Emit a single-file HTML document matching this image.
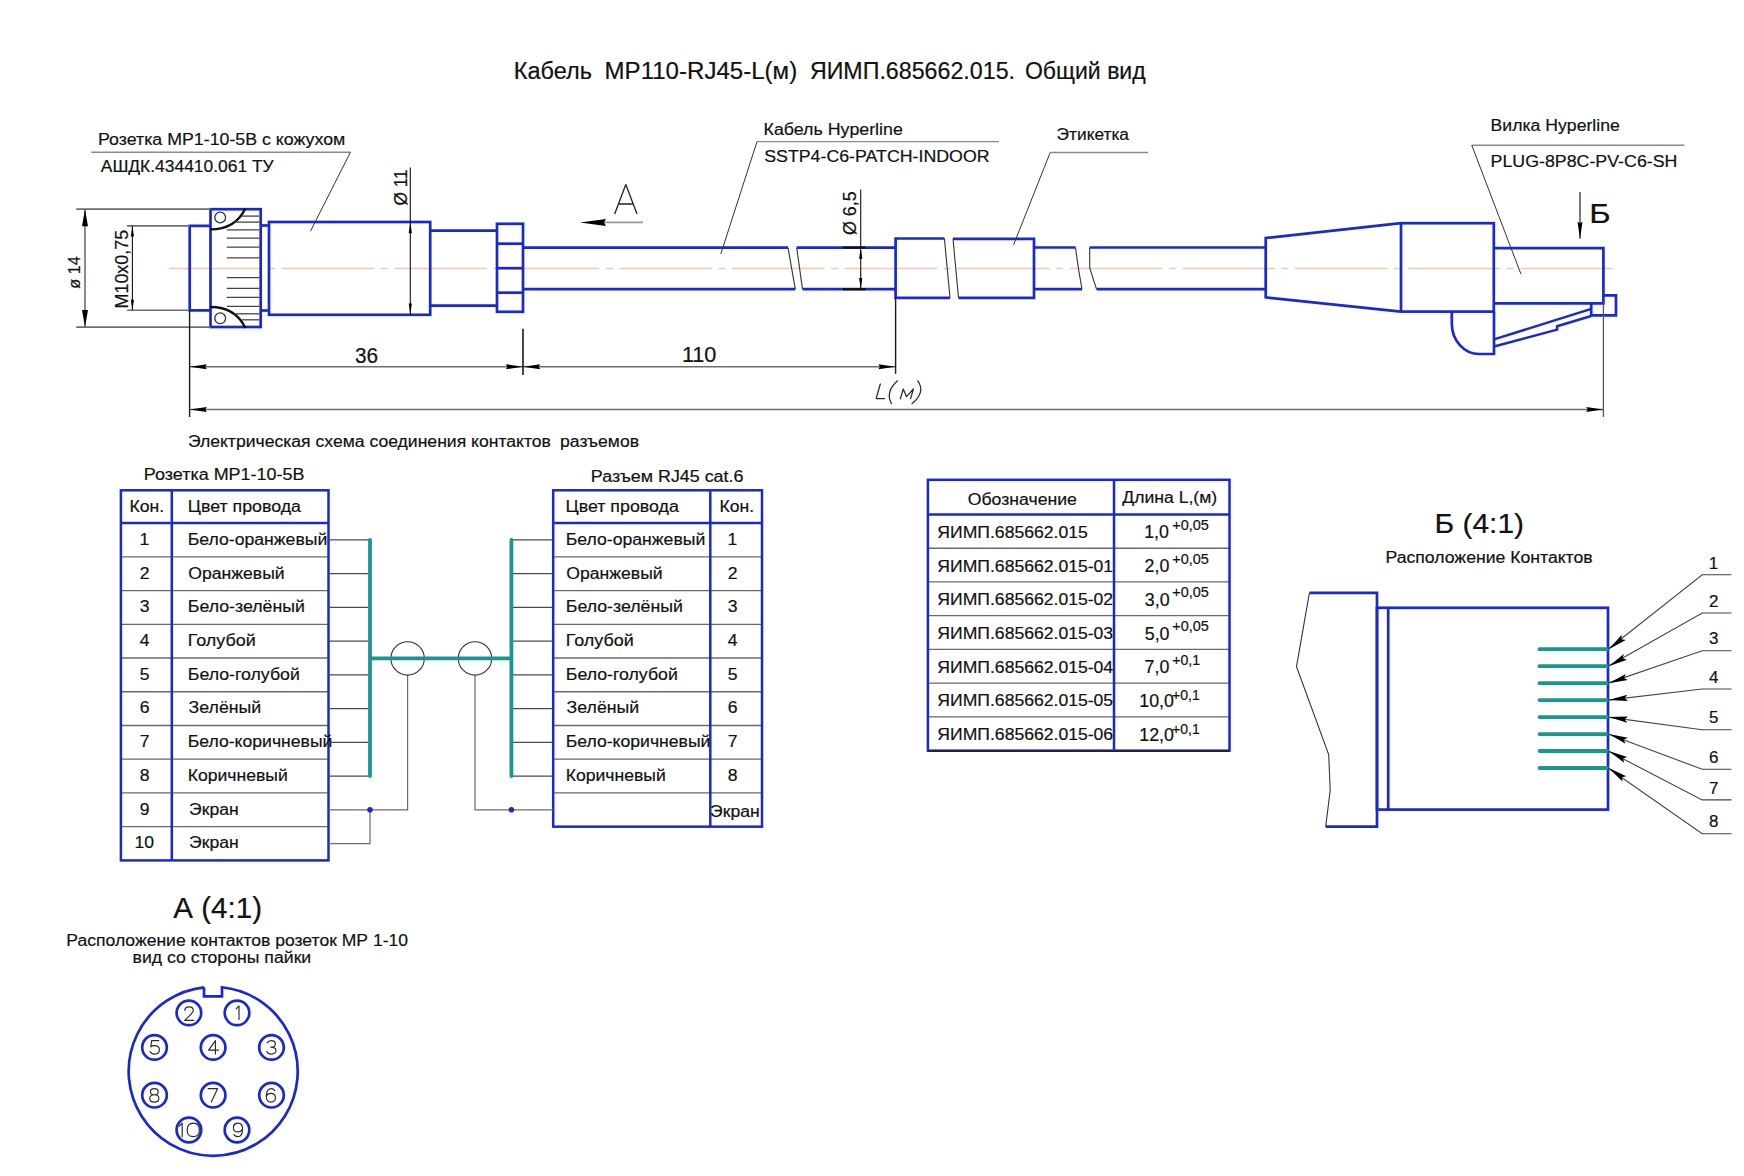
<!DOCTYPE html>
<html><head><meta charset="utf-8"><style>
html,body{margin:0;padding:0;background:#fff;}
svg{display:block;}
text{font-family:"Liberation Sans", sans-serif;white-space:pre;}
</style></head><body>
<svg width="1744" height="1176" viewBox="0 0 1744 1176">
<rect x="0" y="0" width="1744" height="1176" fill="#fff"/>
<text x="513.8" y="79.3" font-size="23.5" fill="#111" stroke="#111" stroke-width="0.2" textLength="78.15" lengthAdjust="spacingAndGlyphs">Кабель</text>
<text x="604.54" y="79.3" font-size="23.5" fill="#111" stroke="#111" stroke-width="0.2" textLength="192.63" lengthAdjust="spacingAndGlyphs">МР110-RJ45-L(м)</text>
<text x="809.91" y="79.3" font-size="23.5" fill="#111" stroke="#111" stroke-width="0.2" textLength="205.11" lengthAdjust="spacingAndGlyphs">ЯИМП.685662.015.</text>
<text x="1024.91" y="79.3" font-size="23.5" fill="#111" stroke="#111" stroke-width="0.2" textLength="120.79" lengthAdjust="spacingAndGlyphs">Общий вид</text>
<line x1="169" y1="268.5" x2="1613.5" y2="268.5" stroke="#efc9ab" stroke-width="1.3" stroke-dasharray="92.5 6.5 7 6.6"/>
<polyline points="210.5,225.8 189.7,225.8 189.7,310.3 210.5,310.3" stroke="#1a28d0" stroke-width="2.7" fill="none" stroke-linejoin="miter"/>
<rect x="210.5" y="209.2" width="50.2" height="117.8" stroke="#1a28d0" stroke-width="2.7" fill="none"/>
<line x1="260.7" y1="225.5" x2="269" y2="225.5" stroke="#1a28d0" stroke-width="2.7"/>
<line x1="260.7" y1="310.5" x2="269" y2="310.5" stroke="#1a28d0" stroke-width="2.7"/>
<rect x="269" y="222" width="161.2" height="92.8" stroke="#1a28d0" stroke-width="2.7" fill="none"/>
<line x1="430.2" y1="230.6" x2="497" y2="230.6" stroke="#1a28d0" stroke-width="2.7"/>
<line x1="430.2" y1="305.7" x2="497" y2="305.7" stroke="#1a28d0" stroke-width="2.7"/>
<rect x="497" y="223.8" width="26" height="88" stroke="#1a28d0" stroke-width="2.7" fill="none"/>
<line x1="497" y1="243.7" x2="523" y2="243.7" stroke="#1a28d0" stroke-width="2.7"/>
<line x1="497" y1="268.2" x2="523" y2="268.2" stroke="#1a28d0" stroke-width="2.7"/>
<line x1="497" y1="292.7" x2="523" y2="292.7" stroke="#1a28d0" stroke-width="2.7"/>
<circle cx="220.2" cy="217.5" r="5.4" stroke="#333" stroke-width="1.3" fill="none"/>
<circle cx="220.2" cy="318.3" r="5.4" stroke="#333" stroke-width="1.3" fill="none"/>
<path d="M210.3,229.4 C224,229.4 238,224 245.3,208.5" stroke="#111" stroke-width="2.4" fill="none"/>
<path d="M210.3,307 C224,307 238,312.4 245.3,327.9" stroke="#111" stroke-width="2.4" fill="none"/>
<line x1="242" y1="216.1" x2="259.5" y2="216.1" stroke="#444" stroke-width="1.3"/>
<line x1="234.4" y1="222.1" x2="259.5" y2="222.1" stroke="#444" stroke-width="1.3"/>
<line x1="226.8" y1="229.9" x2="259.5" y2="229.9" stroke="#444" stroke-width="1.3"/>
<line x1="226.8" y1="238.2" x2="259.5" y2="238.2" stroke="#444" stroke-width="1.3"/>
<line x1="226.8" y1="247.1" x2="259.5" y2="247.1" stroke="#444" stroke-width="1.3"/>
<line x1="226.8" y1="257.8" x2="259.5" y2="257.8" stroke="#444" stroke-width="1.3"/>
<line x1="226.8" y1="277.7" x2="259.5" y2="277.7" stroke="#444" stroke-width="1.3"/>
<line x1="226.8" y1="288.4" x2="259.5" y2="288.4" stroke="#444" stroke-width="1.3"/>
<line x1="226.8" y1="297.3" x2="259.5" y2="297.3" stroke="#444" stroke-width="1.3"/>
<line x1="226.8" y1="306.3" x2="259.5" y2="306.3" stroke="#444" stroke-width="1.3"/>
<line x1="234.4" y1="313.8" x2="259.5" y2="313.8" stroke="#444" stroke-width="1.3"/>
<line x1="242" y1="319.8" x2="259.5" y2="319.8" stroke="#444" stroke-width="1.3"/>
<line x1="523" y1="247.6" x2="788" y2="247.6" stroke="#1a28d0" stroke-width="2.7"/>
<line x1="523" y1="289.2" x2="795.3" y2="289.2" stroke="#1a28d0" stroke-width="2.7"/>
<line x1="788" y1="247.6" x2="795.3" y2="289.2" stroke="#333" stroke-width="1.1"/>
<line x1="796.7" y1="247.6" x2="802.5" y2="289.2" stroke="#333" stroke-width="1.1"/>
<line x1="796.7" y1="247.6" x2="895.6" y2="247.6" stroke="#1a28d0" stroke-width="2.7"/>
<line x1="802.5" y1="289.2" x2="895.6" y2="289.2" stroke="#1a28d0" stroke-width="2.7"/>
<polyline points="944.4,238.5 895.6,238.5 895.6,297.8 950,297.8" stroke="#1a28d0" stroke-width="2.7" fill="none" stroke-linejoin="miter"/>
<line x1="944.4" y1="238.5" x2="950" y2="297.8" stroke="#333" stroke-width="1.1"/>
<polyline points="953,238.8 1034,238.8 1034,297.8 958.5,297.8" stroke="#1a28d0" stroke-width="2.7" fill="none" stroke-linejoin="miter"/>
<line x1="953" y1="238.8" x2="958.5" y2="297.8" stroke="#333" stroke-width="1.1"/>
<line x1="1034" y1="247.5" x2="1075.5" y2="247.5" stroke="#1a28d0" stroke-width="2.7"/>
<line x1="1034" y1="289.1" x2="1082" y2="289.1" stroke="#1a28d0" stroke-width="2.7"/>
<path d="M1075.5,247.5 Q1078,268 1082,289.1" stroke="#333" stroke-width="1.1" fill="none"/>
<path d="M1089.7,247.5 L1089.7,268 L1096.5,289.1" stroke="#333" stroke-width="1.1" fill="none"/>
<line x1="1089.7" y1="247.5" x2="1265.7" y2="247.5" stroke="#1a28d0" stroke-width="2.7"/>
<line x1="1096.5" y1="289.1" x2="1265.7" y2="289.1" stroke="#1a28d0" stroke-width="2.7"/>
<polyline points="1401,223.2 1265.7,238 1265.7,297.4 1401,311.6" stroke="#1a28d0" stroke-width="2.7" fill="none" stroke-linejoin="miter"/>
<rect x="1401" y="223.2" width="92.8" height="88.4" stroke="#1a28d0" stroke-width="2.7" fill="none"/>
<polyline points="1493.8,248.2 1603.4,248.2 1603.4,303.4 1493.8,303.4" stroke="#1a28d0" stroke-width="2.7" fill="none" stroke-linejoin="miter"/>
<polyline points="1603.4,295.3 1616,295.3 1616,315.4 1591.2,315.4 1591.2,303.4" stroke="#1a28d0" stroke-width="2.7" fill="none" stroke-linejoin="miter"/>
<line x1="1494" y1="339.4" x2="1591.2" y2="308.9" stroke="#1a28d0" stroke-width="2.5"/>
<polyline points="1494,346.5 1557.1,329.6 1557.1,326.3 1591.2,316" stroke="#1a28d0" stroke-width="2.5" fill="none" stroke-linejoin="miter"/>
<path d="M1451.8,311.6 L1451.8,323.6 A27.4,30.4 0 0 0 1479.2,354 L1494,354 L1494,311.6" stroke="#1a28d0" stroke-width="2.7" fill="none"/>
<line x1="76.2" y1="209.1" x2="210.5" y2="209.1" stroke="#6e6e6e" stroke-width="1.8"/>
<line x1="76.2" y1="327.1" x2="210.5" y2="327.1" stroke="#6e6e6e" stroke-width="1.8"/>
<line x1="85" y1="209.5" x2="85" y2="327" stroke="#6e6e6e" stroke-width="1.6"/>
<polygon points="85,209.3 82,226.3 85,226.3 88,226.3" fill="#000" stroke="none"/>
<polygon points="85,326.9 88,309.9 85,309.9 82,309.9" fill="#000" stroke="none"/>
<text x="0" y="0" font-size="16" fill="#111" stroke="#111" stroke-width="0.2" textLength="32.53" lengthAdjust="spacingAndGlyphs" transform="translate(79.6 288.75) rotate(-90)">ø 14</text>
<line x1="127.1" y1="225.9" x2="189.7" y2="225.9" stroke="#6e6e6e" stroke-width="1.6"/>
<line x1="127.1" y1="310.2" x2="189.7" y2="310.2" stroke="#6e6e6e" stroke-width="1.6"/>
<line x1="132.4" y1="226" x2="132.4" y2="310" stroke="#111" stroke-width="1.1"/>
<polygon points="132.4,226 130.8,236.5 132.4,236.5 134,236.5" fill="#000" stroke="none"/>
<polygon points="132.4,310.2 134,299.7 132.4,299.7 130.8,299.7" fill="#000" stroke="none"/>
<text x="0" y="0" font-size="17.5" fill="#111" stroke="#111" stroke-width="0.2" textLength="78.62" lengthAdjust="spacingAndGlyphs" transform="translate(128.4 308.47) rotate(-90)">M10x0,75</text>
<line x1="410.3" y1="167.5" x2="410.3" y2="314.8" stroke="#111" stroke-width="1.1"/>
<polygon points="410.3,222.2 408.7,233.2 410.3,233.2 411.9,233.2" fill="#000" stroke="none"/>
<polygon points="410.3,314.6 411.9,303.6 410.3,303.6 408.7,303.6" fill="#000" stroke="none"/>
<text x="0" y="0" font-size="17.5" fill="#111" stroke="#111" stroke-width="0.2" textLength="36.09" lengthAdjust="spacingAndGlyphs" transform="translate(406.9 205.48) rotate(-90)">Ø 11</text>
<line x1="860.7" y1="189.5" x2="860.7" y2="289.2" stroke="#111" stroke-width="1.1"/>
<polygon points="860.7,247.8 859.1,258.8 860.7,258.8 862.3,258.8" fill="#000" stroke="none"/>
<polygon points="860.7,289 862.3,278 860.7,278 859.1,278" fill="#000" stroke="none"/>
<line x1="843" y1="247.6" x2="865.5" y2="247.6" stroke="#111" stroke-width="2.3"/>
<line x1="843" y1="289.2" x2="865.5" y2="289.2" stroke="#111" stroke-width="2.3"/>
<text x="0" y="0" font-size="17.5" fill="#111" stroke="#111" stroke-width="0.2" textLength="43.88" lengthAdjust="spacingAndGlyphs" transform="translate(855.5 235.12) rotate(-90)">Ø 6,5</text>
<line x1="590" y1="222.4" x2="643" y2="222.4" stroke="#999" stroke-width="1.6"/>
<polygon points="580,222.4 606,225.9 604,222.4 606,218.9" fill="#000" stroke="none"/>
<path d="M614.7,214 L625.8,184.6 L637,214 M618.5,204 L633.2,204" stroke="#222" stroke-width="1.3" fill="none" stroke-linejoin="round"/>
<line x1="189.7" y1="366.7" x2="895.6" y2="366.7" stroke="#6e6e6e" stroke-width="1.5"/>
<line x1="523" y1="328.7" x2="523" y2="375" stroke="#1a1a1a" stroke-width="1.6"/>
<line x1="189.6" y1="310.3" x2="189.6" y2="417" stroke="#1a1a1a" stroke-width="1.4"/>
<line x1="895.6" y1="297.8" x2="895.6" y2="373.8" stroke="#1a1a1a" stroke-width="1.4"/>
<polygon points="189.8,366.7 206.8,369.2 205.3,366.7 206.8,364.2" fill="#000" stroke="none"/>
<polygon points="522.8,366.7 505.8,364.2 507.3,366.7 505.8,369.2" fill="#000" stroke="none"/>
<polygon points="523.2,366.7 540.2,369.2 538.7,366.7 540.2,364.2" fill="#000" stroke="none"/>
<polygon points="895.4,366.7 878.4,364.2 879.9,366.7 878.4,369.2" fill="#000" stroke="none"/>
<text x="354.91" y="363.2" font-size="21.5" fill="#111" stroke="#111" stroke-width="0.2" textLength="23.1" lengthAdjust="spacingAndGlyphs">36</text>
<text x="681.93" y="362.2" font-size="21.5" fill="#111" stroke="#111" stroke-width="0.2" textLength="34.48" lengthAdjust="spacingAndGlyphs">110</text>
<line x1="189.7" y1="409.5" x2="1603.4" y2="409.5" stroke="#6e6e6e" stroke-width="1.5"/>
<line x1="1603.4" y1="303.4" x2="1603.4" y2="417" stroke="#555" stroke-width="1.3"/>
<polygon points="189.8,409.5 206.8,412 205.3,409.5 206.8,407" fill="#000" stroke="none"/>
<polygon points="1603.2,409.5 1586.2,407 1587.7,409.5 1586.2,412" fill="#000" stroke="none"/>
<path d="M880.3,384 L876.2,398.5 L884.5,398.5 M897.5,380.8 Q885,392 891.5,403.7 M900.3,398.8 L903.3,389 L906.5,396.7 L913.4,389 L910.6,398.7 M917.8,380.8 Q926,392 912,403.7" stroke="#2a2a2a" stroke-width="1.25" fill="none" stroke-linecap="round" stroke-linejoin="round"/>
<text x="98.05" y="145.2" font-size="17.3" fill="#111" stroke="#111" stroke-width="0.2" textLength="247.27" lengthAdjust="spacingAndGlyphs">Розетка МР1-10-5В с кожухом</text>
<line x1="91.3" y1="152.3" x2="350.4" y2="152.3" stroke="#8a8a8a" stroke-width="1.4"/>
<line x1="350.4" y1="152.3" x2="310.5" y2="231.2" stroke="#333" stroke-width="1.0"/>
<text x="100.77" y="172" font-size="17.3" fill="#111" stroke="#111" stroke-width="0.2" textLength="172.85" lengthAdjust="spacingAndGlyphs">АШДК.434410.061 ТУ</text>
<text x="763.55" y="135" font-size="17.3" fill="#111" stroke="#111" stroke-width="0.2" textLength="139.24" lengthAdjust="spacingAndGlyphs">Кабель Hyperline</text>
<line x1="757" y1="141.6" x2="999" y2="141.6" stroke="#8a8a8a" stroke-width="1.4"/>
<line x1="757" y1="141.6" x2="720.8" y2="254" stroke="#333" stroke-width="1.0"/>
<text x="764.2" y="161.6" font-size="17.3" fill="#111" stroke="#111" stroke-width="0.2" textLength="225.41" lengthAdjust="spacingAndGlyphs">SSTP4-C6-PATCH-INDOOR</text>
<text x="1056.61" y="140.3" font-size="17.3" fill="#111" stroke="#111" stroke-width="0.2" textLength="72.39" lengthAdjust="spacingAndGlyphs">Этикетка</text>
<line x1="1050.2" y1="152.5" x2="1148" y2="152.5" stroke="#8a8a8a" stroke-width="1.4"/>
<line x1="1050.2" y1="152.5" x2="1013.5" y2="245" stroke="#333" stroke-width="1.0"/>
<text x="1490.55" y="130.6" font-size="17.3" fill="#111" stroke="#111" stroke-width="0.2" textLength="129.24" lengthAdjust="spacingAndGlyphs">Вилка Hyperline</text>
<line x1="1471.8" y1="145.3" x2="1684.3" y2="145.3" stroke="#8a8a8a" stroke-width="1.4"/>
<line x1="1471.8" y1="145.3" x2="1521" y2="274.2" stroke="#333" stroke-width="1.0"/>
<text x="1490.55" y="167" font-size="17.3" fill="#111" stroke="#111" stroke-width="0.2" textLength="186.9" lengthAdjust="spacingAndGlyphs">PLUG-8P8C-PV-C6-SH</text>
<line x1="1580" y1="192" x2="1580" y2="238.8" stroke="#222" stroke-width="1.2"/>
<polygon points="1580,238.8 1582.5,221.8 1580,223.3 1577.5,221.8" fill="#000" stroke="none"/>
<text x="1589.33" y="223.2" font-size="27" fill="#111" stroke="#111" stroke-width="0.2" textLength="21.35" lengthAdjust="spacingAndGlyphs">Б</text>
<text x="187.9" y="447" font-size="17.3" fill="#111" stroke="#111" stroke-width="0.2" textLength="363.06" lengthAdjust="spacingAndGlyphs">Электрическая схема соединения контактов</text>
<text x="560.08" y="447" font-size="17.3" fill="#111" stroke="#111" stroke-width="0.2" textLength="78.98" lengthAdjust="spacingAndGlyphs">разъемов</text>
<text x="143.84" y="479.6" font-size="17.3" fill="#111" stroke="#111" stroke-width="0.2" textLength="160.6" lengthAdjust="spacingAndGlyphs">Розетка МР1-10-5В</text>
<text x="590.85" y="482" font-size="17.3" fill="#111" stroke="#111" stroke-width="0.2" textLength="152.53" lengthAdjust="spacingAndGlyphs">Разъем RJ45 cat.6</text>
<line x1="120.9" y1="556.83" x2="328.5" y2="556.83" stroke="#6a6a6a" stroke-width="1.3"/>
<line x1="120.9" y1="590.56" x2="328.5" y2="590.56" stroke="#6a6a6a" stroke-width="1.3"/>
<line x1="120.9" y1="624.29" x2="328.5" y2="624.29" stroke="#6a6a6a" stroke-width="1.3"/>
<line x1="120.9" y1="658.02" x2="328.5" y2="658.02" stroke="#6a6a6a" stroke-width="1.3"/>
<line x1="120.9" y1="691.75" x2="328.5" y2="691.75" stroke="#6a6a6a" stroke-width="1.3"/>
<line x1="120.9" y1="725.48" x2="328.5" y2="725.48" stroke="#6a6a6a" stroke-width="1.3"/>
<line x1="120.9" y1="759.21" x2="328.5" y2="759.21" stroke="#6a6a6a" stroke-width="1.3"/>
<line x1="120.9" y1="792.94" x2="328.5" y2="792.94" stroke="#6a6a6a" stroke-width="1.3"/>
<line x1="120.9" y1="826.67" x2="328.5" y2="826.67" stroke="#6a6a6a" stroke-width="1.3"/>
<rect x="120.9" y="490.3" width="207.6" height="370.1" stroke="#1a28d0" stroke-width="2.5" fill="none"/>
<line x1="171.8" y1="490.3" x2="171.8" y2="860.4" stroke="#1a28d0" stroke-width="2.5"/>
<line x1="120.9" y1="523.1" x2="328.5" y2="523.1" stroke="#1a28d0" stroke-width="2.5"/>
<text x="129.56" y="512" font-size="17.3" fill="#111" stroke="#111" stroke-width="0.2" textLength="34.61" lengthAdjust="spacingAndGlyphs">Кон.</text>
<text x="187.76" y="512" font-size="17.3" fill="#111" stroke="#111" stroke-width="0.2" textLength="113.27" lengthAdjust="spacingAndGlyphs">Цвет провода</text>
<text x="139.47" y="544.8" font-size="17.3" fill="#111" stroke="#111" stroke-width="0.2" textLength="9.78" lengthAdjust="spacingAndGlyphs">1</text>
<text x="187.76" y="544.8" font-size="17.3" fill="#111" stroke="#111" stroke-width="0.2" textLength="139.56" lengthAdjust="spacingAndGlyphs">Бело-оранжевый</text>
<text x="139.71" y="578.53" font-size="17.3" fill="#111" stroke="#111" stroke-width="0.2" textLength="9.78" lengthAdjust="spacingAndGlyphs">2</text>
<text x="188.37" y="578.53" font-size="17.3" fill="#111" stroke="#111" stroke-width="0.2" textLength="96.26" lengthAdjust="spacingAndGlyphs">Оранжевый</text>
<text x="139.76" y="612.26" font-size="17.3" fill="#111" stroke="#111" stroke-width="0.2" textLength="9.78" lengthAdjust="spacingAndGlyphs">3</text>
<text x="187.76" y="612.26" font-size="17.3" fill="#111" stroke="#111" stroke-width="0.2" textLength="117.23" lengthAdjust="spacingAndGlyphs">Бело-зелёный</text>
<text x="139.77" y="645.99" font-size="17.3" fill="#111" stroke="#111" stroke-width="0.2" textLength="9.78" lengthAdjust="spacingAndGlyphs">4</text>
<text x="187.76" y="645.99" font-size="17.3" fill="#111" stroke="#111" stroke-width="0.2" textLength="68" lengthAdjust="spacingAndGlyphs">Голубой</text>
<text x="139.73" y="679.72" font-size="17.3" fill="#111" stroke="#111" stroke-width="0.2" textLength="9.78" lengthAdjust="spacingAndGlyphs">5</text>
<text x="187.76" y="679.72" font-size="17.3" fill="#111" stroke="#111" stroke-width="0.2" textLength="112.09" lengthAdjust="spacingAndGlyphs">Бело-голубой</text>
<text x="139.65" y="713.45" font-size="17.3" fill="#111" stroke="#111" stroke-width="0.2" textLength="9.78" lengthAdjust="spacingAndGlyphs">6</text>
<text x="188.62" y="713.45" font-size="17.3" fill="#111" stroke="#111" stroke-width="0.2" textLength="72.59" lengthAdjust="spacingAndGlyphs">Зелёный</text>
<text x="139.7" y="747.18" font-size="17.3" fill="#111" stroke="#111" stroke-width="0.2" textLength="9.78" lengthAdjust="spacingAndGlyphs">7</text>
<text x="187.76" y="747.18" font-size="17.3" fill="#111" stroke="#111" stroke-width="0.2" textLength="144.69" lengthAdjust="spacingAndGlyphs">Бело-коричневый</text>
<text x="139.71" y="780.91" font-size="17.3" fill="#111" stroke="#111" stroke-width="0.2" textLength="9.78" lengthAdjust="spacingAndGlyphs">8</text>
<text x="187.76" y="780.91" font-size="17.3" fill="#111" stroke="#111" stroke-width="0.2" textLength="100.04" lengthAdjust="spacingAndGlyphs">Коричневый</text>
<text x="139.72" y="814.64" font-size="17.3" fill="#111" stroke="#111" stroke-width="0.2" textLength="9.78" lengthAdjust="spacingAndGlyphs">9</text>
<text x="189.1" y="814.64" font-size="17.3" fill="#111" stroke="#111" stroke-width="0.2" textLength="49.58" lengthAdjust="spacingAndGlyphs">Экран</text>
<text x="134.5" y="848.37" font-size="17.3" fill="#111" stroke="#111" stroke-width="0.2" textLength="19.55" lengthAdjust="spacingAndGlyphs">10</text>
<text x="189.1" y="848.37" font-size="17.3" fill="#111" stroke="#111" stroke-width="0.2" textLength="49.58" lengthAdjust="spacingAndGlyphs">Экран</text>
<line x1="553.2" y1="556.83" x2="762" y2="556.83" stroke="#6a6a6a" stroke-width="1.3"/>
<line x1="553.2" y1="590.56" x2="762" y2="590.56" stroke="#6a6a6a" stroke-width="1.3"/>
<line x1="553.2" y1="624.29" x2="762" y2="624.29" stroke="#6a6a6a" stroke-width="1.3"/>
<line x1="553.2" y1="658.02" x2="762" y2="658.02" stroke="#6a6a6a" stroke-width="1.3"/>
<line x1="553.2" y1="691.75" x2="762" y2="691.75" stroke="#6a6a6a" stroke-width="1.3"/>
<line x1="553.2" y1="725.48" x2="762" y2="725.48" stroke="#6a6a6a" stroke-width="1.3"/>
<line x1="553.2" y1="759.21" x2="762" y2="759.21" stroke="#6a6a6a" stroke-width="1.3"/>
<line x1="553.2" y1="792.94" x2="762" y2="792.94" stroke="#6a6a6a" stroke-width="1.3"/>
<rect x="553.2" y="490.3" width="208.8" height="336.37" stroke="#1a28d0" stroke-width="2.5" fill="none"/>
<line x1="710.3" y1="490.3" x2="710.3" y2="826.67" stroke="#1a28d0" stroke-width="2.5"/>
<line x1="553.2" y1="523.1" x2="762" y2="523.1" stroke="#1a28d0" stroke-width="2.5"/>
<text x="565.56" y="512" font-size="17.3" fill="#111" stroke="#111" stroke-width="0.2" textLength="113.27" lengthAdjust="spacingAndGlyphs">Цвет провода</text>
<text x="719.56" y="512" font-size="17.3" fill="#111" stroke="#111" stroke-width="0.2" textLength="34.61" lengthAdjust="spacingAndGlyphs">Кон.</text>
<text x="565.76" y="544.8" font-size="17.3" fill="#111" stroke="#111" stroke-width="0.2" textLength="139.56" lengthAdjust="spacingAndGlyphs">Бело-оранжевый</text>
<text x="727.47" y="544.8" font-size="17.3" fill="#111" stroke="#111" stroke-width="0.2" textLength="9.78" lengthAdjust="spacingAndGlyphs">1</text>
<text x="566.37" y="578.53" font-size="17.3" fill="#111" stroke="#111" stroke-width="0.2" textLength="96.26" lengthAdjust="spacingAndGlyphs">Оранжевый</text>
<text x="727.71" y="578.53" font-size="17.3" fill="#111" stroke="#111" stroke-width="0.2" textLength="9.78" lengthAdjust="spacingAndGlyphs">2</text>
<text x="565.76" y="612.26" font-size="17.3" fill="#111" stroke="#111" stroke-width="0.2" textLength="117.23" lengthAdjust="spacingAndGlyphs">Бело-зелёный</text>
<text x="727.76" y="612.26" font-size="17.3" fill="#111" stroke="#111" stroke-width="0.2" textLength="9.78" lengthAdjust="spacingAndGlyphs">3</text>
<text x="565.76" y="645.99" font-size="17.3" fill="#111" stroke="#111" stroke-width="0.2" textLength="68" lengthAdjust="spacingAndGlyphs">Голубой</text>
<text x="727.77" y="645.99" font-size="17.3" fill="#111" stroke="#111" stroke-width="0.2" textLength="9.78" lengthAdjust="spacingAndGlyphs">4</text>
<text x="565.76" y="679.72" font-size="17.3" fill="#111" stroke="#111" stroke-width="0.2" textLength="112.09" lengthAdjust="spacingAndGlyphs">Бело-голубой</text>
<text x="727.73" y="679.72" font-size="17.3" fill="#111" stroke="#111" stroke-width="0.2" textLength="9.78" lengthAdjust="spacingAndGlyphs">5</text>
<text x="566.62" y="713.45" font-size="17.3" fill="#111" stroke="#111" stroke-width="0.2" textLength="72.59" lengthAdjust="spacingAndGlyphs">Зелёный</text>
<text x="727.65" y="713.45" font-size="17.3" fill="#111" stroke="#111" stroke-width="0.2" textLength="9.78" lengthAdjust="spacingAndGlyphs">6</text>
<text x="565.76" y="747.18" font-size="17.3" fill="#111" stroke="#111" stroke-width="0.2" textLength="144.69" lengthAdjust="spacingAndGlyphs">Бело-коричневый</text>
<text x="727.7" y="747.18" font-size="17.3" fill="#111" stroke="#111" stroke-width="0.2" textLength="9.78" lengthAdjust="spacingAndGlyphs">7</text>
<text x="565.76" y="780.91" font-size="17.3" fill="#111" stroke="#111" stroke-width="0.2" textLength="100.04" lengthAdjust="spacingAndGlyphs">Коричневый</text>
<text x="727.71" y="780.91" font-size="17.3" fill="#111" stroke="#111" stroke-width="0.2" textLength="9.78" lengthAdjust="spacingAndGlyphs">8</text>
<text x="710.1" y="816.5" font-size="17.3" fill="#111" stroke="#111" stroke-width="0.2" textLength="49.58" lengthAdjust="spacingAndGlyphs">Экран</text>
<line x1="328.5" y1="539.97" x2="370" y2="539.97" stroke="#4a4a4a" stroke-width="1.2"/>
<line x1="511.4" y1="539.97" x2="553.2" y2="539.97" stroke="#4a4a4a" stroke-width="1.2"/>
<line x1="328.5" y1="573.7" x2="370" y2="573.7" stroke="#4a4a4a" stroke-width="1.2"/>
<line x1="511.4" y1="573.7" x2="553.2" y2="573.7" stroke="#4a4a4a" stroke-width="1.2"/>
<line x1="328.5" y1="607.42" x2="370" y2="607.42" stroke="#4a4a4a" stroke-width="1.2"/>
<line x1="511.4" y1="607.42" x2="553.2" y2="607.42" stroke="#4a4a4a" stroke-width="1.2"/>
<line x1="328.5" y1="641.15" x2="370" y2="641.15" stroke="#4a4a4a" stroke-width="1.2"/>
<line x1="511.4" y1="641.15" x2="553.2" y2="641.15" stroke="#4a4a4a" stroke-width="1.2"/>
<line x1="328.5" y1="674.88" x2="370" y2="674.88" stroke="#4a4a4a" stroke-width="1.2"/>
<line x1="511.4" y1="674.88" x2="553.2" y2="674.88" stroke="#4a4a4a" stroke-width="1.2"/>
<line x1="328.5" y1="708.62" x2="370" y2="708.62" stroke="#4a4a4a" stroke-width="1.2"/>
<line x1="511.4" y1="708.62" x2="553.2" y2="708.62" stroke="#4a4a4a" stroke-width="1.2"/>
<line x1="328.5" y1="742.35" x2="370" y2="742.35" stroke="#4a4a4a" stroke-width="1.2"/>
<line x1="511.4" y1="742.35" x2="553.2" y2="742.35" stroke="#4a4a4a" stroke-width="1.2"/>
<line x1="328.5" y1="776.08" x2="370" y2="776.08" stroke="#4a4a4a" stroke-width="1.2"/>
<line x1="511.4" y1="776.08" x2="553.2" y2="776.08" stroke="#4a4a4a" stroke-width="1.2"/>
<polyline points="328.5,809.81 370,809.81 407.6,809.81 407.6,675.1" stroke="#6a6a6a" stroke-width="1.2" fill="none" stroke-linejoin="miter"/>
<polyline points="370,809.81 370,843.53 328.5,843.53" stroke="#6a6a6a" stroke-width="1.2" fill="none" stroke-linejoin="miter"/>
<polyline points="553.2,809.81 475,809.81 475,675.1" stroke="#6a6a6a" stroke-width="1.2" fill="none" stroke-linejoin="miter"/>
<circle cx="407.6" cy="658.4" r="16.7" stroke="#333" stroke-width="1.1" fill="none"/>
<circle cx="475" cy="658.4" r="16.7" stroke="#333" stroke-width="1.1" fill="none"/>
<polyline points="370,539.97 370,776.08" stroke="#1a9690" stroke-width="3.8" fill="none" stroke-linecap="round"/>
<polyline points="511.4,539.97 511.4,776.08" stroke="#1a9690" stroke-width="3.8" fill="none" stroke-linecap="round"/>
<line x1="370" y1="658.4" x2="511.4" y2="658.4" stroke="#1a9690" stroke-width="3.8"/>
<circle cx="370" cy="809.81" r="2.8" stroke="none" stroke-width="0" fill="#1a28d0"/>
<circle cx="511.4" cy="809.81" r="2.8" stroke="none" stroke-width="0" fill="#1a28d0"/>
<line x1="927.9" y1="548.23" x2="1229.5" y2="548.23" stroke="#6a6a6a" stroke-width="1.3"/>
<line x1="927.9" y1="581.96" x2="1229.5" y2="581.96" stroke="#6a6a6a" stroke-width="1.3"/>
<line x1="927.9" y1="615.69" x2="1229.5" y2="615.69" stroke="#6a6a6a" stroke-width="1.3"/>
<line x1="927.9" y1="649.42" x2="1229.5" y2="649.42" stroke="#6a6a6a" stroke-width="1.3"/>
<line x1="927.9" y1="683.15" x2="1229.5" y2="683.15" stroke="#6a6a6a" stroke-width="1.3"/>
<line x1="927.9" y1="716.88" x2="1229.5" y2="716.88" stroke="#6a6a6a" stroke-width="1.3"/>
<rect x="927.9" y="479.8" width="301.6" height="270.81" stroke="#1a28d0" stroke-width="2.5" fill="none"/>
<line x1="927.9" y1="751.21" x2="1229.5" y2="751.21" stroke="#222" stroke-width="1.6"/>
<line x1="1114" y1="479.8" x2="1114" y2="750.61" stroke="#1a28d0" stroke-width="2.5"/>
<line x1="927.9" y1="514.5" x2="1229.5" y2="514.5" stroke="#1a28d0" stroke-width="2.5"/>
<text x="967.67" y="505.3" font-size="17.3" fill="#111" stroke="#111" stroke-width="0.2" textLength="109.3" lengthAdjust="spacingAndGlyphs">Обозначение</text>
<text x="1122.37" y="503" font-size="17.3" fill="#111" stroke="#111" stroke-width="0.2" textLength="94.8" lengthAdjust="spacingAndGlyphs">Длина L,(м)</text>
<text x="937.38" y="537.8" font-size="17.3" fill="#111" stroke="#111" stroke-width="0.2" textLength="150.36" lengthAdjust="spacingAndGlyphs">ЯИМП.685662.015</text>
<text x="1144.15" y="538.4" font-size="17.5" fill="#111" stroke="#111" stroke-width="0.2" textLength="24.72" lengthAdjust="spacingAndGlyphs">1,0</text>
<text x="1172.19" y="530" font-size="15" fill="#111" stroke="#111" stroke-width="0.2" textLength="36.61" lengthAdjust="spacingAndGlyphs">+0,05</text>
<text x="937.38" y="571.53" font-size="17.3" fill="#111" stroke="#111" stroke-width="0.2" textLength="175.76" lengthAdjust="spacingAndGlyphs">ЯИМП.685662.015-01</text>
<text x="1144.61" y="572.13" font-size="17.5" fill="#111" stroke="#111" stroke-width="0.2" textLength="24.72" lengthAdjust="spacingAndGlyphs">2,0</text>
<text x="1172.19" y="563.73" font-size="15" fill="#111" stroke="#111" stroke-width="0.2" textLength="36.61" lengthAdjust="spacingAndGlyphs">+0,05</text>
<text x="937.38" y="605.26" font-size="17.3" fill="#111" stroke="#111" stroke-width="0.2" textLength="175.76" lengthAdjust="spacingAndGlyphs">ЯИМП.685662.015-02</text>
<text x="1144.82" y="605.86" font-size="17.5" fill="#111" stroke="#111" stroke-width="0.2" textLength="24.72" lengthAdjust="spacingAndGlyphs">3,0</text>
<text x="1172.19" y="597.46" font-size="15" fill="#111" stroke="#111" stroke-width="0.2" textLength="36.61" lengthAdjust="spacingAndGlyphs">+0,05</text>
<text x="937.38" y="638.99" font-size="17.3" fill="#111" stroke="#111" stroke-width="0.2" textLength="175.76" lengthAdjust="spacingAndGlyphs">ЯИМП.685662.015-03</text>
<text x="1144.79" y="639.59" font-size="17.5" fill="#111" stroke="#111" stroke-width="0.2" textLength="24.72" lengthAdjust="spacingAndGlyphs">5,0</text>
<text x="1172.19" y="631.19" font-size="15" fill="#111" stroke="#111" stroke-width="0.2" textLength="36.61" lengthAdjust="spacingAndGlyphs">+0,05</text>
<text x="937.38" y="672.72" font-size="17.3" fill="#111" stroke="#111" stroke-width="0.2" textLength="175.76" lengthAdjust="spacingAndGlyphs">ЯИМП.685662.015-04</text>
<text x="1144.59" y="673.32" font-size="17.5" fill="#111" stroke="#111" stroke-width="0.2" textLength="24.72" lengthAdjust="spacingAndGlyphs">7,0</text>
<text x="1172.21" y="664.92" font-size="15" fill="#111" stroke="#111" stroke-width="0.2" textLength="27.88" lengthAdjust="spacingAndGlyphs">+0,1</text>
<text x="937.38" y="706.45" font-size="17.3" fill="#111" stroke="#111" stroke-width="0.2" textLength="175.76" lengthAdjust="spacingAndGlyphs">ЯИМП.685662.015-05</text>
<text x="1139.25" y="707.05" font-size="17.5" fill="#111" stroke="#111" stroke-width="0.2" textLength="34.61" lengthAdjust="spacingAndGlyphs">10,0</text>
<text x="1172.01" y="700.15" font-size="15" fill="#111" stroke="#111" stroke-width="0.2" textLength="27.77" lengthAdjust="spacingAndGlyphs">+0,1</text>
<text x="937.38" y="740.18" font-size="17.3" fill="#111" stroke="#111" stroke-width="0.2" textLength="175.76" lengthAdjust="spacingAndGlyphs">ЯИМП.685662.015-06</text>
<text x="1139.25" y="740.78" font-size="17.5" fill="#111" stroke="#111" stroke-width="0.2" textLength="34.61" lengthAdjust="spacingAndGlyphs">12,0</text>
<text x="1172.01" y="733.88" font-size="15" fill="#111" stroke="#111" stroke-width="0.2" textLength="27.77" lengthAdjust="spacingAndGlyphs">+0,1</text>
<text x="1434.54" y="533.4" font-size="28.5" fill="#111" stroke="#111" stroke-width="0.2" textLength="89.51" lengthAdjust="spacingAndGlyphs">Б (4:1)</text>
<text x="1385.56" y="562.6" font-size="16" fill="#111" stroke="#111" stroke-width="0.2" textLength="207.1" lengthAdjust="spacingAndGlyphs">Расположение Контактов</text>
<polyline points="1309.4,592.9 1377,592.9 1377,826.6 1325.7,826.6" stroke="#1a28d0" stroke-width="2.7" fill="none" stroke-linejoin="miter"/>
<polyline points="1309.4,592.9 1296.5,666.7 1328.7,754.5 1330.2,790.3 1325.7,826.6" stroke="#333" stroke-width="1.1" fill="none" stroke-linejoin="miter"/>
<rect x="1377" y="607.8" width="231" height="201.8" stroke="#1a28d0" stroke-width="2.7" fill="none"/>
<line x1="1388.2" y1="607.8" x2="1388.2" y2="809.6" stroke="#1a28d0" stroke-width="2.7"/>
<line x1="1539.5" y1="649.2" x2="1607" y2="649.2" stroke="#1a9690" stroke-width="3.8" stroke-linecap="round"/>
<line x1="1539.5" y1="666.17" x2="1607" y2="666.17" stroke="#1a9690" stroke-width="3.8" stroke-linecap="round"/>
<line x1="1539.5" y1="683.14" x2="1607" y2="683.14" stroke="#1a9690" stroke-width="3.8" stroke-linecap="round"/>
<line x1="1539.5" y1="700.11" x2="1607" y2="700.11" stroke="#1a9690" stroke-width="3.8" stroke-linecap="round"/>
<line x1="1539.5" y1="717.08" x2="1607" y2="717.08" stroke="#1a9690" stroke-width="3.8" stroke-linecap="round"/>
<line x1="1539.5" y1="734.05" x2="1607" y2="734.05" stroke="#1a9690" stroke-width="3.8" stroke-linecap="round"/>
<line x1="1539.5" y1="751.02" x2="1607" y2="751.02" stroke="#1a9690" stroke-width="3.8" stroke-linecap="round"/>
<line x1="1539.5" y1="767.99" x2="1607" y2="767.99" stroke="#1a9690" stroke-width="3.8" stroke-linecap="round"/>
<polyline points="1608,649.2 1702.2,574.7 1731.5,574.7" stroke="#444" stroke-width="1.1" fill="none" stroke-linejoin="miter"/>
<polygon points="1608.8,649.2 1625.72,639.96 1621.35,639.27 1621.69,634.86" fill="#000" stroke="none"/>
<text x="1708.74" y="569.1" font-size="17" fill="#111" stroke="#111" stroke-width="0.2" textLength="9.45" lengthAdjust="spacingAndGlyphs">1</text>
<polyline points="1608,666.17 1702.2,613 1731.5,613" stroke="#444" stroke-width="1.1" fill="none" stroke-linejoin="miter"/>
<polygon points="1608.8,666.17 1626.94,659.66 1622.73,658.31 1623.75,654" fill="#000" stroke="none"/>
<text x="1708.97" y="606.6" font-size="17" fill="#111" stroke="#111" stroke-width="0.2" textLength="9.45" lengthAdjust="spacingAndGlyphs">2</text>
<polyline points="1608,683.14 1702.2,650.7 1731.5,650.7" stroke="#444" stroke-width="1.1" fill="none" stroke-linejoin="miter"/>
<polygon points="1608.8,683.14 1627.82,680.03 1623.93,677.93 1625.71,673.88" fill="#000" stroke="none"/>
<text x="1709.02" y="644.3" font-size="17" fill="#111" stroke="#111" stroke-width="0.2" textLength="9.45" lengthAdjust="spacingAndGlyphs">3</text>
<polyline points="1608,700.11 1702.2,689 1731.5,689" stroke="#444" stroke-width="1.1" fill="none" stroke-linejoin="miter"/>
<polygon points="1608.8,700.11 1628.05,701.11 1624.69,698.24 1627.29,694.66" fill="#000" stroke="none"/>
<text x="1709.03" y="682.6" font-size="17" fill="#111" stroke="#111" stroke-width="0.2" textLength="9.45" lengthAdjust="spacingAndGlyphs">4</text>
<polyline points="1608,717.08 1702.2,729.8 1731.5,729.8" stroke="#444" stroke-width="1.1" fill="none" stroke-linejoin="miter"/>
<polygon points="1608.8,717.08 1627.19,722.84 1624.66,719.22 1628.06,716.4" fill="#000" stroke="none"/>
<text x="1708.99" y="723.4" font-size="17" fill="#111" stroke="#111" stroke-width="0.2" textLength="9.45" lengthAdjust="spacingAndGlyphs">5</text>
<polyline points="1608,734.05 1702.2,769.3 1731.5,769.3" stroke="#444" stroke-width="1.1" fill="none" stroke-linejoin="miter"/>
<polygon points="1608.8,734.05 1625.46,743.75 1623.79,739.66 1627.73,737.67" fill="#000" stroke="none"/>
<text x="1708.91" y="762.9" font-size="17" fill="#111" stroke="#111" stroke-width="0.2" textLength="9.45" lengthAdjust="spacingAndGlyphs">6</text>
<polyline points="1608,751.02 1702.2,799.9 1731.5,799.9" stroke="#444" stroke-width="1.1" fill="none" stroke-linejoin="miter"/>
<polygon points="1608.8,751.02 1624.17,762.66 1623,758.39 1627.16,756.89" fill="#000" stroke="none"/>
<text x="1708.96" y="793.5" font-size="17" fill="#111" stroke="#111" stroke-width="0.2" textLength="9.45" lengthAdjust="spacingAndGlyphs">7</text>
<polyline points="1608,767.99 1702.2,833.8 1731.5,833.8" stroke="#444" stroke-width="1.1" fill="none" stroke-linejoin="miter"/>
<polygon points="1608.8,767.99 1622.51,781.54 1621.92,777.15 1626.24,776.21" fill="#000" stroke="none"/>
<text x="1708.97" y="826.6" font-size="17" fill="#111" stroke="#111" stroke-width="0.2" textLength="9.45" lengthAdjust="spacingAndGlyphs">8</text>
<text x="173.24" y="917.8" font-size="28.8" fill="#111" stroke="#111" stroke-width="0.2" textLength="88.79" lengthAdjust="spacingAndGlyphs">А (4:1)</text>
<text x="66.37" y="946.2" font-size="17.3" fill="#111" stroke="#111" stroke-width="0.2" textLength="341.71" lengthAdjust="spacingAndGlyphs">Расположение контактов розеток МР 1-10</text>
<text x="132.58" y="962.6" font-size="17.3" fill="#111" stroke="#111" stroke-width="0.2" textLength="178.65" lengthAdjust="spacingAndGlyphs">вид со стороны пайки</text>
<path d="M204,987.3 L204,996.3 L222,996.3 L222,987.26 A84.5,84.5 0 1 1 204,987.3" stroke="#1a28d0" stroke-width="2.7" fill="none"/>
<circle cx="237" cy="1012.9" r="12.3" stroke="#1a28d0" stroke-width="2.7" fill="none"/>
<circle cx="188.9" cy="1012.9" r="12.3" stroke="#1a28d0" stroke-width="2.7" fill="none"/>
<circle cx="271.5" cy="1047.4" r="12.3" stroke="#1a28d0" stroke-width="2.7" fill="none"/>
<circle cx="213.1" cy="1047.4" r="12.3" stroke="#1a28d0" stroke-width="2.7" fill="none"/>
<circle cx="154.5" cy="1047.4" r="12.3" stroke="#1a28d0" stroke-width="2.7" fill="none"/>
<circle cx="271.5" cy="1095.2" r="12.3" stroke="#1a28d0" stroke-width="2.7" fill="none"/>
<circle cx="213.1" cy="1095.2" r="12.3" stroke="#1a28d0" stroke-width="2.7" fill="none"/>
<circle cx="154.5" cy="1095.2" r="12.3" stroke="#1a28d0" stroke-width="2.7" fill="none"/>
<circle cx="237" cy="1130" r="12.3" stroke="#1a28d0" stroke-width="2.7" fill="none"/>
<circle cx="188.9" cy="1130" r="12.3" stroke="#1a28d0" stroke-width="2.7" fill="none"/>
<path d="M1.2,3 L4,0 L4,13.5" transform="translate(235 1005.9)" stroke="#2a2a2a" stroke-width="1.15" fill="none" stroke-linecap="round" stroke-linejoin="round"/>
<path d="M0.6,3.6 C0.6,1.2 2.5,0 4.8,0 C7.3,0 9,1.5 9,3.7 C9,6.2 5.5,8.3 0.4,13.5 L9.6,13.5" transform="translate(184.3 1006.9)" stroke="#2a2a2a" stroke-width="1.15" fill="none" stroke-linecap="round" stroke-linejoin="round"/>
<path d="M9,0 L1.8,0 L1,6.3 C2.2,5.2 3.7,5 4.9,5 C8,5 9.6,7 9.6,9.2 C9.6,11.9 7.5,13.5 4.9,13.5 C2.6,13.5 1,12.5 0.3,10.9" transform="translate(149.8 1040.6)" stroke="#2a2a2a" stroke-width="1.15" fill="none" stroke-linecap="round" stroke-linejoin="round"/>
<path d="M7,13.5 L7,0 L0.2,9.5 L10.2,9.5" transform="translate(208.4 1040.6)" stroke="#2a2a2a" stroke-width="1.15" fill="none" stroke-linecap="round" stroke-linejoin="round"/>
<path d="M0.6,2.3 C1.5,0.7 3,0 4.8,0 C7.3,0 8.9,1.5 8.9,3.4 C8.9,5.4 7.2,6.6 4.2,6.6 C7.7,6.6 9.5,8.2 9.5,10 C9.5,12.3 7.4,13.5 4.8,13.5 C2.6,13.5 1,12.5 0.2,10.9" transform="translate(266.5 1040.6)" stroke="#2a2a2a" stroke-width="1.15" fill="none" stroke-linecap="round" stroke-linejoin="round"/>
<path d="M5,6.2 C2.4,6.2 1.1,5 1.1,3.1 C1.1,1.2 2.7,0 5,0 C7.3,0 8.9,1.2 8.9,3.1 C8.9,5 7.6,6.2 5,6.2 C2.1,6.2 0.4,7.8 0.4,9.9 C0.4,12.2 2.3,13.5 5,13.5 C7.7,13.5 9.6,12.2 9.6,9.9 C9.6,7.8 7.9,6.2 5,6.2 Z" transform="translate(149.3 1088.6)" stroke="#2a2a2a" stroke-width="1.15" fill="none" stroke-linecap="round" stroke-linejoin="round"/>
<path d="M0.2,0 L9.8,0 L3.4,13.5" transform="translate(207.9 1088.6)" stroke="#2a2a2a" stroke-width="1.15" fill="none" stroke-linecap="round" stroke-linejoin="round"/>
<path d="M9,2.1 C8.2,0.7 6.8,0 5.2,0 C1.7,0 0.4,3.6 0.4,7.7 C0.4,11.4 2.2,13.5 5,13.5 C7.8,13.5 9.6,11.6 9.6,9 C9.6,6.4 7.8,4.8 5.2,4.8 C2.8,4.8 0.9,6.2 0.4,8.3" transform="translate(265.9 1088.6)" stroke="#2a2a2a" stroke-width="1.15" fill="none" stroke-linecap="round" stroke-linejoin="round"/>
<path d="M1,11.4 C1.8,12.8 3.2,13.5 4.8,13.5 C8.3,13.5 9.6,9.9 9.6,5.8 C9.6,2.1 7.8,0 5,0 C2.2,0 0.4,1.9 0.4,4.5 C0.4,7.1 2.2,8.7 4.8,8.7 C7.2,8.7 9.1,7.3 9.6,5.2" transform="translate(233 1123.2)" stroke="#2a2a2a" stroke-width="1.15" fill="none" stroke-linecap="round" stroke-linejoin="round"/>
<path d="M1.2,3 L4,0 L4,13.5" transform="translate(178.2 1123.2)" stroke="#2a2a2a" stroke-width="1.15" fill="none" stroke-linecap="round" stroke-linejoin="round"/>
<path d="M5,0 C1.8,0 0.5,3.1 0.5,6.75 C0.5,10.4 1.8,13.5 5,13.5 C8.2,13.5 9.5,10.4 9.5,6.75 C9.5,3.1 8.2,0 5,0 Z" transform="translate(186.5 1123.2) scale(1.35 1)" stroke="#2a2a2a" stroke-width="1.15" fill="none" stroke-linecap="round" stroke-linejoin="round" vector-effect="non-scaling-stroke"/>
</svg></body></html>
